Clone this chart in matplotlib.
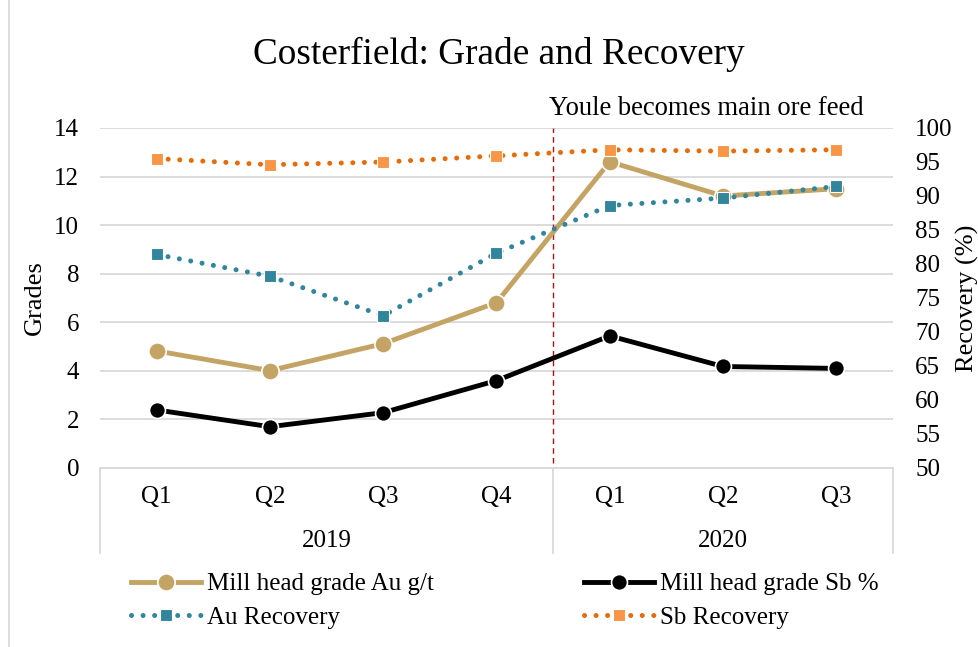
import matplotlib
matplotlib.use("Agg")
import matplotlib.pyplot as plt
import matplotlib.transforms as mtransforms
from matplotlib.lines import Line2D

plt.rcParams['font.family'] = ['Liberation Serif', 'DejaVu Serif']

quarters = ["Q1", "Q2", "Q3", "Q4", "Q1", "Q2", "Q3"]
years = ["2019", "2020"]
year_sizes = [4, 3]
au_grade = [4.82, 4.01, 5.12, 6.81, 12.61, 11.2, 11.5]
sb_grade = [2.39, 1.70, 2.28, 3.60, 5.44, 4.18, 4.10]
au_recovery = [81.4, 78.2, 72.4, 81.6, 88.6, 89.7, 91.4]
sb_recovery = [95.5, 94.6, 95.0, 95.9, 96.8, 96.6, 96.8]

W, H = 979, 647
fig = plt.figure(figsize=(W / 100, H / 100), dpi=100)
ax = fig.add_axes([100 / W, 1 - 468 / H, 793 / W, 340 / H])
ax2 = ax.twinx()

x = list(range(len(quarters)))
grid_c = "#D9D9D9"
fs = 18

ax.plot(x, au_grade, color="#C4A464", lw=3.5, marker="o", ms=12.5,
        mfc="#C4A464", mec="white", mew=1.2, label="Mill head grade Au g/t", zorder=3)
ax.plot(x, sb_grade, color="black", lw=3.5, marker="o", ms=11.5,
        mfc="black", mec="white", mew=1.2, label="Mill head grade Sb %", zorder=3)
ax2.plot(x, au_recovery, color="#31859C", lw=3.6, ls=(0, (0.01, 2.3)),
         dash_capstyle="round", marker="s", ms=8.5, mfc="#31859C", mec="white",
         mew=0.8, label="Au Recovery", zorder=3)
ax2.plot(x, sb_recovery, color="#E46C0A", lw=3.6, ls=(0, (0.01, 2.3)),
         dash_capstyle="round", marker="s", ms=8.5, mfc="#F79646", mec="white",
         mew=0.8, label="Sb Recovery", zorder=3)

ax.set_xlim(-0.5, len(quarters) - 0.5)
ax.set_ylim(0, 14)
ax.set_yticks(range(0, 15, 2))
ax2.set_ylim(50, 100)
ax2.set_yticks(range(50, 101, 5))
ax.grid(axis="y", color=grid_c, lw=1.3)
ax.set_axisbelow(True)

for a in (ax, ax2):
    for s in a.spines.values():
        s.set_visible(False)
    a.tick_params(length=0, labelsize=fs)
ax.spines["bottom"].set_visible(True)
ax.spines["bottom"].set_color(grid_c)
ax.spines["bottom"].set_linewidth(1.3)

ax.set_xticks(x)
ax.set_xticklabels(quarters)
ax.tick_params(axis="x", pad=13)
ax.tick_params(axis="y", pad=15)
ax2.tick_params(axis="y", pad=16)

ax.set_ylabel("Grades", fontsize=fs + 1, labelpad=6)
ax2.set_ylabel("Recovery (%)", fontsize=fs + 1, rotation=90)
ax2.yaxis.set_label_coords((956 - 100) / 793, 0.5)

trans = mtransforms.blended_transform_factory(ax.transData, ax.transAxes)
start = -0.5
bounds = [start]
for yr, n in zip(years, year_sizes):
    ax.text(start + n / 2, -0.215, yr, transform=trans, ha="center", va="center", fontsize=fs)
    start += n
    bounds.append(start)
for b in bounds:
    ax.plot([b, b], [0, -0.25], transform=trans, color=grid_c, lw=1.3, clip_on=False)

ax.axvline(3.5, ymin=0.015, ymax=1.0, color="#B01010", lw=1.0, ls=(0, (4, 3)), zorder=2)
ax.text(3.46, 14.3, "Youle becomes main ore feed", ha="left", va="bottom", fontsize=fs + 1.2)

fig.text(499 / W, 1 - 54 / H, "Costerfield: Grade and Recovery", ha="center", va="center", fontsize=26.8)

fig.add_artist(Line2D([9 / W, 9 / W], [0, 1], color=grid_c, lw=1.3))

h1, l1 = ax.get_legend_handles_labels()
h2, l2 = ax2.get_legend_handles_labels()
handles = [h1[0], h2[0], h1[1], h2[1]]
labels = [l1[0], l2[0], l1[1], l2[1]]
fig.legend(handles, labels, ncol=2, loc="center left", bbox_to_anchor=(108 / W, 1 - 601 / H),
           frameon=False, fontsize=fs, handlelength=2.8, handletextpad=0.25,
           columnspacing=6.0, labelspacing=0.45)

fig.savefig("out.png", dpi=100)
